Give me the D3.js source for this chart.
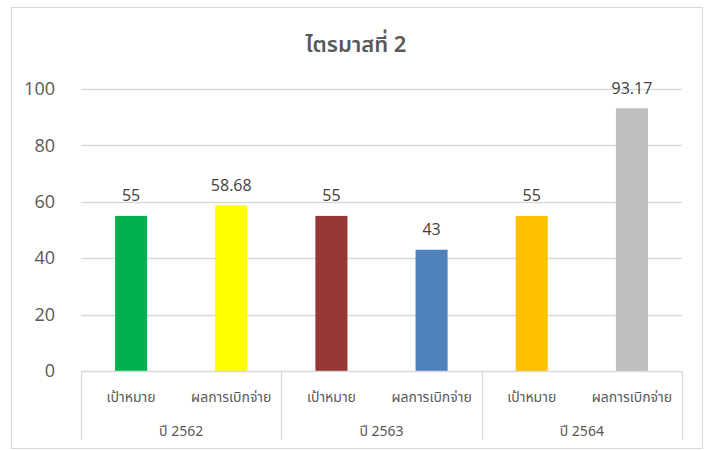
<!DOCTYPE html>
<html>
<head>
<meta charset="utf-8">
<script src="https://cdn.jsdelivr.net/npm/d3@7"></script>
<style>
  body { margin: 0; background: #fff; }
  text { font-family: "Leelawadee UI", "Noto Sans Thai", "DejaVu Sans", sans-serif; }
</style>
</head>
<body>
<div id="chart"></div>
<script>
var titleText = "ไตรมาสที่ 2";
var groups = ["ปี 2562", "ปี 2563", "ปี 2564"];
var subCats = ["เป้าหมาย", "ผลการเบิกจ่าย"];
var values = [55, 58.68, 55, 43, 55, 93.17];
var labels = ["55", "58.68", "55", "43", "55", "93.17"];
var colors = ["#00B050", "#FFFF00", "#953735", "#4F81BD", "#FFC000", "#BFBFBF"];
var yTicks = [0, 20, 40, 60, 80, 100];

// build rows from the arrays
var data = [];
groups.forEach(function(g, gi) {
  subCats.forEach(function(s, si) {
    var i = gi * subCats.length + si;
    data.push({key: g + "|" + s, group: g, sub: s, value: values[i], label: labels[i], color: colors[i]});
  });
});

var W = 709, H = 450;
var margin = {top: 89, right: 27, left: 81, bottom: 79};
var width = W - margin.left - margin.right;
var height = H - margin.top - margin.bottom;

var svg = d3.select("#chart").append("svg").attr("width", W).attr("height", H);

// outer frame
svg.append("rect").attr("x", 11.5).attr("y", 7.5).attr("width", 691).attr("height", 441)
  .attr("fill", "none").attr("stroke", "#D9D9D9");

svg.append("text").attr("x", 356).attr("y", 52).attr("text-anchor", "middle")
  .attr("font-size", 22).attr("font-weight", 600).attr("fill", "#595959").text(titleText);

var g = svg.append("g").attr("transform", "translate(" + margin.left + "," + margin.top + ")");

var xScale = d3.scaleBand().domain(data.map(function(d) { return d.key; }))
  .range([0, width]).paddingInner(0.68).paddingOuter(0.34);
var xGroup = d3.scaleBand().domain(groups).range([0, width]);
var yScale = d3.scaleLinear().domain([0, 100]).range([height, 0]);

// gridlines
g.append("g").selectAll("line").data(yTicks.filter(function(t) { return t > 0; })).enter().append("line")
  .attr("x1", 0).attr("x2", width)
  .attr("y1", function(d) { return Math.round(yScale(d)) + 0.5; })
  .attr("y2", function(d) { return Math.round(yScale(d)) + 0.5; })
  .attr("stroke", "#D9D9D9").attr("stroke-width", 1.3);

// y axis labels
var yAxis = g.append("g").call(d3.axisLeft(yScale).tickValues(yTicks).tickSize(0).tickPadding(26));
yAxis.select(".domain").remove();
yAxis.selectAll("text").attr("font-size", 18).attr("fill", "#595959")
  .style("font-family", "'Open Sans', sans-serif");

// bars
g.selectAll(".bar").data(data).enter().append("rect").attr("class", "bar")
  .attr("x", function(d) { return xScale(d.key); })
  .attr("y", function(d) { return yScale(d.value); })
  .attr("width", xScale.bandwidth())
  .attr("height", function(d) { return height - yScale(d.value); })
  .attr("fill", function(d) { return d.color; });

// data labels
g.selectAll(".lbl").data(data).enter().append("text").attr("class", "lbl")
  .attr("x", function(d) { return xScale(d.key) + xScale.bandwidth() / 2; })
  .attr("y", function(d) { return yScale(d.value) - 14.5; })
  .attr("text-anchor", "middle").attr("font-size", 16).attr("fill", "#404040")
  .style("font-family", "'Open Sans', sans-serif")
  .text(function(d) { return d.label; });

// x axis line
g.append("line").attr("x1", 0).attr("x2", width).attr("y1", height + 0.5).attr("y2", height + 0.5)
  .attr("stroke", "#D9D9D9").attr("stroke-width", 1.3);

// group separators
var seps = groups.map(function(d) { return xGroup(d); }).concat([width]);
g.selectAll(".sep").data(seps).enter().append("line").attr("class", "sep")
  .attr("x1", function(d) { return Math.round(d) + 0.5; })
  .attr("x2", function(d) { return Math.round(d) + 0.5; })
  .attr("y1", height).attr("y2", height + 69)
  .attr("stroke", "#D9D9D9").attr("stroke-width", 1.3);

// category labels
g.selectAll(".cat").data(data).enter().append("text").attr("class", "cat")
  .attr("x", function(d) { return xScale(d.key) + xScale.bandwidth() / 2; })
  .attr("y", height + 31)
  .attr("text-anchor", "middle").attr("font-size", 14).attr("fill", "#595959")
  .text(function(d) { return d.sub; });

// group labels
g.selectAll(".grp").data(groups).enter().append("text").attr("class", "grp")
  .attr("x", function(d) { return xGroup(d) + xGroup.bandwidth() / 2; })
  .attr("y", height + 65)
  .attr("text-anchor", "middle").attr("font-size", 14).attr("fill", "#595959")
  .text(function(d) { return d; });
</script>
</body>
</html>
